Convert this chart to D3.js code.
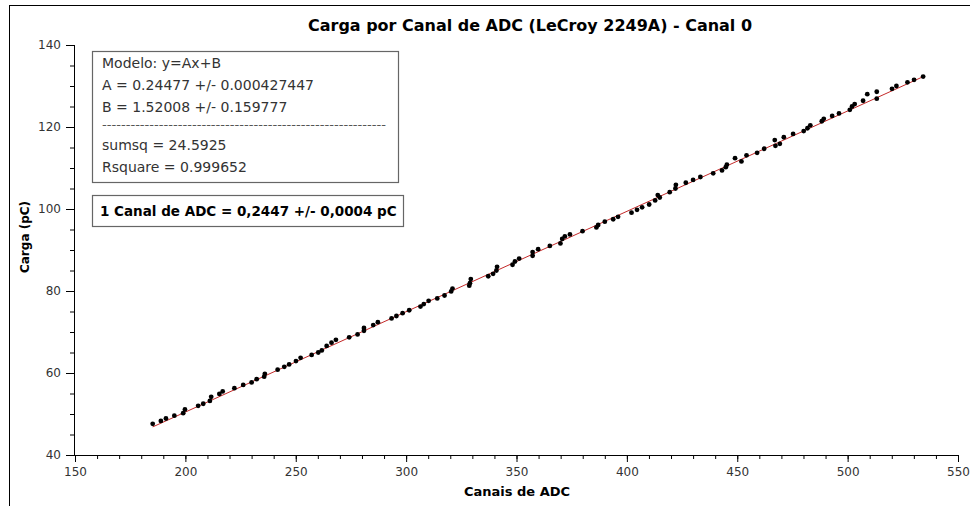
<!DOCTYPE html>
<html>
<head>
<meta charset="utf-8">
<script src="https://cdn.jsdelivr.net/npm/d3@7"></script>
<style>
  body { margin: 0; background: #fff; }
  svg { display: block; font-family: "DejaVu Sans", sans-serif; }
  .tick text { fill: #333; font-size: 12px; }
</style>
</head>
<body>
<svg width="970" height="506"></svg>
<script>
// ADC channels (x) and measured charge in pC (y)
const channels = [185.2,188.9,191.2,195.0,199.0,199.8,205.8,208.1,211.1,211.7,
  215.4,216.9,222.2,226.2,230.0,232.3,235.7,236.0,241.8,244.8,
  247.0,250.1,252.2,257.2,260.2,261.8,264.0,266.2,268.2,274.2,
  278.0,280.9,280.9,285.1,287.2,293.4,295.6,298.4,301.4,306.5,
  308.0,310.2,314.1,317.4,320.4,321.0,328.6,328.9,329.3,337.2,
  339.4,340.9,341.2,348.2,349.3,351.2,357.3,357.3,
  359.8,365.1,369.9,370.7,371.9,374.2,379.9,386.2,387.0,390.0,
  393.8,396.0,402.1,404.6,406.9,410.1,412.8,414.0,414.9,419.4,
  422.0,422.2,426.7,430.0,433.3,439.1,443.1,444.8,445.3,449.0,
  451.9,454.2,459.0,462.2,467.0,467.3,469.3,471.1,475.3,480.1,
  481.8,483.1,488.3,489.2,493.0,496.1,501.0,502.0,503.2,507.0,
  508.9,513.2,513.2,520.1,522.1,527.1,530.1,534.2];
const charge = [47.6,48.3,48.9,49.6,50.2,51.1,52.0,52.5,53.2,54.2,
  54.9,55.5,56.3,57.1,57.7,58.5,59.1,59.8,60.8,61.5,
  62.1,62.9,63.7,64.4,65.0,65.5,66.6,67.4,68.1,68.7,
  69.4,70.3,71.0,71.7,72.4,73.3,73.9,74.6,75.3,76.2,
  76.8,77.6,78.2,78.9,79.9,80.6,81.3,81.9,82.9,83.6,
  84.2,85.0,85.9,86.4,87.2,87.9,88.6,89.5,
  90.2,91.0,91.6,92.7,93.3,93.8,94.6,95.5,96.1,96.9,
  97.5,98.1,99.1,99.8,100.4,101.1,102.1,103.4,102.8,104.1,
  105.0,105.9,106.4,107.1,107.8,108.7,109.4,110.2,110.8,112.4,
  111.6,113.1,113.7,114.7,116.8,115.4,115.9,117.5,118.3,119.0,
  119.7,120.4,121.4,122.0,122.7,123.3,124.2,125.0,125.6,126.4,
  128.0,126.9,128.6,129.3,130.0,130.9,131.5,132.3];

// fit y = A x + B
const fitA = 0.24477;
const fitB = 1.52008;

const xTicks = [150, 200, 250, 300, 350, 400, 450, 500, 550];
const yTicks = [40, 60, 80, 100, 120, 140];

const fitLines = [
  "Modelo: y=Ax+B",
  "A = 0.24477 +/- 0.000427447",
  "B = 1.52008 +/- 0.159777",
  null,
  "sumsq = 24.5925",
  "Rsquare = 0.999652"
];
const resultText = "1 Canal de ADC = 0,2447 +/- 0,0004 pC";

const svg = d3.select('svg');

const x = d3.scaleLinear().domain([150, 550]).range([75, 958]);
const y = d3.scaleLinear().domain([40, 140]).range([455, 45]);

// outer frame lines
svg.append("line").attr("x1", 9).attr("x2", 970).attr("y1", 5.5).attr("y2", 5.5)
  .attr("stroke", "#000").attr("stroke-width", 1);
svg.append("line").attr("x1", 9.5).attr("x2", 9.5).attr("y1", 5).attr("y2", 506)
  .attr("stroke", "#000").attr("stroke-width", 1);

// title
svg.append("text")
  .attr("x", 530).attr("y", 31)
  .attr("text-anchor", "middle")
  .style("font-size", "16px").style("font-weight", "bold")
  .attr("textLength", 444).attr("lengthAdjust", "spacingAndGlyphs")
  .text("Carga por Canal de ADC (LeCroy 2249A) - Canal 0");

// minor ticks
svg.append("g")
  .attr("transform", "translate(0," + y(40) + ")")
  .call(d3.axisBottom(x).tickValues(d3.range(150, 551, 10)).tickSize(4).tickFormat(""))
  .call(g => g.select(".domain").remove())
  .call(g => g.selectAll(".tick line").attr("stroke", "#000"));
svg.append("g")
  .attr("transform", "translate(" + x(150) + ",0)")
  .call(d3.axisLeft(y).tickValues(d3.range(40, 141, 5)).tickSize(5).tickFormat(""))
  .call(g => g.select(".domain").remove())
  .call(g => g.selectAll(".tick line").attr("stroke", "#000"));

// major axes
svg.append("g")
  .attr("transform", "translate(0," + y(40) + ")")
  .call(d3.axisBottom(x).tickValues(xTicks).tickSize(7).tickSizeOuter(0).tickPadding(5))
  .call(g => g.select(".domain").attr("stroke", "#000"))
  .call(g => g.selectAll(".tick line").attr("stroke", "#000"))
  .call(g => g.selectAll(".tick text").style("font-family", "DejaVu Sans"));
svg.append("g")
  .attr("transform", "translate(" + (x(150) - 1) + ",0)")
  .call(d3.axisLeft(y).tickValues(yTicks).tickSize(8).tickSizeOuter(0).tickPadding(5))
  .call(g => g.select(".domain").attr("stroke", "#000"))
  .call(g => g.selectAll(".tick line").attr("stroke", "#000"))
  .call(g => g.selectAll(".tick text").style("font-family", "DejaVu Sans"));

// axis titles
svg.append("text")
  .attr("x", 517).attr("y", 496)
  .attr("text-anchor", "middle")
  .style("font-size", "13px").style("font-weight", "bold")
  .text("Canais de ADC");
svg.append("text")
  .attr("transform", "translate(29,237) rotate(-90)")
  .attr("text-anchor", "middle")
  .style("font-size", "12px").style("font-weight", "bold")
  .text("Carga (pC)");

// fitted line
const points = channels.map((c, i) => ({ x: c, y: charge[i] }));
const xExt = d3.extent(channels);
const fitLine = d3.line()
  .x(d => x(d))
  .y(d => y(fitA * d + fitB));
svg.append("path")
  .datum(xExt)
  .attr("d", fitLine)
  .attr("fill", "none")
  .attr("stroke", "#c42a2a")
  .attr("stroke-width", 1);

// data points
svg.append("g").selectAll("circle")
  .data(points)
  .enter().append("circle")
  .attr("cx", d => x(d.x))
  .attr("cy", d => y(d.y))
  .attr("r", 2.4)
  .attr("fill", "#000");

// fit info box
const box = svg.append("g");
box.append("rect")
  .attr("x", 92.5).attr("y", 51.5).attr("width", 306).attr("height", 131)
  .attr("fill", "#fff").attr("stroke", "#666").attr("stroke-width", 1.2);
const lineY = [68, 90, 112, 129, 150, 172];
fitLines.forEach((t, i) => {
  const tx = box.append("text")
    .attr("x", 102).attr("y", lineY[i])
    .style("font-size", "14px").attr("fill", "#333");
  if (t === null) {
    tx.attr("textLength", 284).attr("lengthAdjust", "spacingAndGlyphs")
      .style("font-size", "12px").attr("fill", "#555")
      .text("-".repeat(60));
  } else {
    tx.text(t);
  }
});

box.append("rect")
  .attr("x", 92.5).attr("y", 195.5).attr("width", 311).attr("height", 31)
  .attr("fill", "#fff").attr("stroke", "#666").attr("stroke-width", 1.2);
box.append("text")
  .attr("x", 100).attr("y", 216)
  .style("font-size", "13.5px").style("font-weight", "bold").attr("fill", "#000")
  .text(resultText);
</script>
</body>
</html>
